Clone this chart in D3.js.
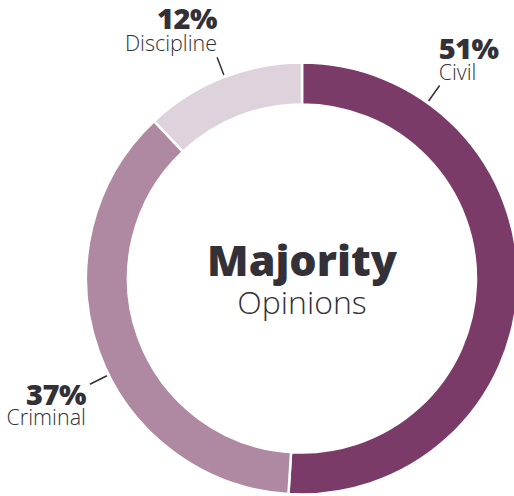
<!DOCTYPE html>
<html>
<head>
<meta charset="utf-8">
<script src="https://cdn.jsdelivr.net/npm/d3@7"></script>
<style>
  body { margin: 0; background: #fff; }
  svg { display: block; }
  text { fill: #333137; font-family: "Open Sans", "Noto Sans", sans-serif; }
</style>
</head>
<body>
<div id="chart"></div>
<script>
const categories = ["Civil", "Criminal", "Discipline"];
const shares = [51, 37, 12];
const colors = ["#7a3b68", "#ae89a1", "#ded3dc"];

const width = 514;
const height = 496;
const cx = 302;
const cy = 278.5;
const outerR = 216;
const innerR = 174;

const svg = d3.select("#chart")
    .append("svg")
    .attr("width", width)
    .attr("height", height);

const g = svg.append("g")
    .attr("transform", `translate(${cx},${cy})`);

const data = categories.map((c, i) => ({ name: c, value: shares[i], color: colors[i] }));

const pie = d3.pie()
    .sort(null)
    .value(d => d.value);

const arc = d3.arc()
    .innerRadius(innerR)
    .outerRadius(outerR);

g.selectAll("path")
    .data(pie(data))
    .enter()
    .append("path")
    .attr("d", arc)
    .attr("fill", d => d.data.color)
    .attr("stroke", "#fff")
    .attr("stroke-width", 2.5);

// leader lines + labels (angles in degrees, clockwise from top)
const labelLayout = {
    Civil:      { angle: 35.5, anchor: "start", dx: -1, pctDy: -27, nameDy: -6 },
    Criminal:   { angle: 243.5, anchor: "end", dx: -4, pctDy: 21, nameDy: 41 },
    Discipline: { angle: 339, anchor: "end", dx: 0, pctDy: -28, nameDy: -6 }
};

const polar = (r, deg) => {
    const a = deg * Math.PI / 180;
    return [r * Math.sin(a), -r * Math.cos(a)];
};

data.forEach(d => {
    const l = labelLayout[d.name];
    const p1 = polar(218, l.angle);
    const p2 = polar(237, l.angle);
    g.append("line")
        .attr("x1", p1[0]).attr("y1", p1[1])
        .attr("x2", p2[0]).attr("y2", p2[1])
        .attr("stroke", "#333137")
        .attr("stroke-width", 1.5);

    g.append("text")
        .attr("x", p2[0] + l.dx)
        .attr("y", p2[1] + l.pctDy)
        .attr("text-anchor", l.anchor)
        .attr("font-size", 29)
        .attr("font-weight", 800)
        .attr("letter-spacing", -0.5)
        .text(d.value + "%");

    g.append("text")
        .attr("x", p2[0] + l.dx)
        .attr("y", p2[1] + l.nameDy)
        .attr("text-anchor", l.anchor)
        .attr("font-size", 21.5)
        .attr("font-weight", 300)
        .text(d.name);
});

// centre title
g.append("text")
    .attr("x", 0)
    .attr("y", -3)
    .attr("text-anchor", "middle")
    .attr("font-size", 43)
    .attr("font-weight", 800)
    .text("Majority");

g.append("text")
    .attr("x", 0)
    .attr("y", 35)
    .attr("text-anchor", "middle")
    .attr("font-size", 32)
    .attr("font-weight", 300)
    .text("Opinions");
</script>
</body>
</html>
